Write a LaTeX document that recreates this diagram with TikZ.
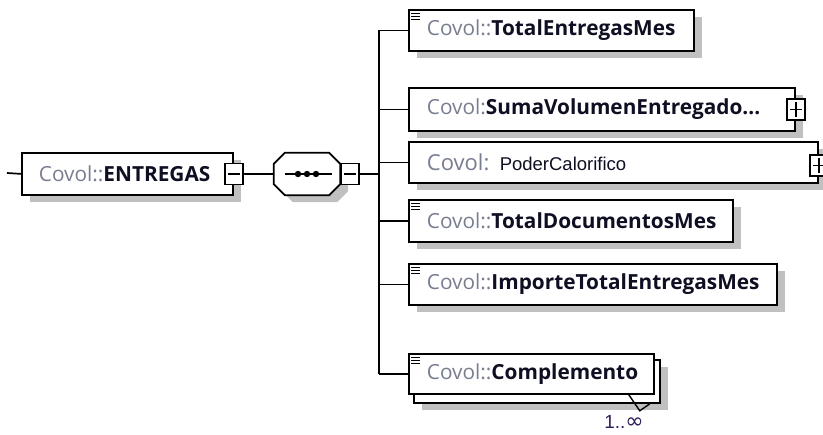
\documentclass[tikz,border=0pt]{standalone}
\usepackage{fontspec}
\setmainfont{Open Sans}
\newfontfamily\arialfont{Liberation Sans}
\newfontfamily\symbfont{DejaVu Sans}
\usetikzlibrary{shadows}
\definecolor{covgray}{RGB}{120,125,145}
\definecolor{shadowgray}{RGB}{192,192,192}
\definecolor{namecol}{RGB}{15,15,35}
\definecolor{multcol}{RGB}{50,30,90}
\newcommand{\cov}[2]{{\color{covgray}Covol:#1}{\bfseries\color{namecol}#2}}
\newcommand{\listicon}[1]{\foreach \dy in {5,8,11} \draw[line width=1pt] ([shift={(3,\dy)}]#1.north west) -- ++(9,0);}
\tikzset{
  conn/.style={line width=1.7pt},
  boxshadow/.style={general shadow={fill=shadowgray, shadow xshift=8pt, shadow yshift=-7pt}},
  elem/.style={draw, line width=1.8pt, fill=white, anchor=north west, minimum height=41pt,
    inner xsep=18pt, inner ysep=0pt, align=left, font=\fontsize{20.8}{24}\selectfont},
  seqbox/.style={minimum width=66pt, minimum height=42pt, inner sep=0pt},
  minusbox/.style={draw, line width=1.5pt, fill=white, minimum width=18pt, minimum height=21pt, inner sep=0pt,
    path picture={\draw[line width=1.5pt] ([xshift=3pt]path picture bounding box.west) -- ([xshift=-3pt]path picture bounding box.east);}},
  plusbox/.style={minusbox,
    path picture={\draw[line width=1.5pt] ([xshift=3pt]path picture bounding box.west) -- ([xshift=-3pt]path picture bounding box.east)
      ([yshift=-3pt]path picture bounding box.north) -- ([yshift=3pt]path picture bounding box.south);}}
}
\begin{document}
\begin{tikzpicture}[x=1pt,y=-1pt]
\useasboundingbox (0,0) rectangle (823,435);

\node[elem, boxshadow, text width=177pt, inner xsep=17pt, minimum height=42pt] (ent) at (21,152) {\cov{:}{ENTREGAS}};
\node[minusbox] (entm) at (ent.east) {};
\coordinate (in) at (7,173);
\draw[conn] (in) -- (ent.west);

\node[seqbox] (seq) at (307,174) {};
\draw[line width=1.8pt, fill=white, boxshadow] ([xshift=11pt]seq.north west) -- ([xshift=-11pt]seq.north east)
  -- ([yshift=-11pt]seq.north east) -- ([yshift=11pt]seq.south east) -- ([xshift=-11pt]seq.south east)
  -- ([xshift=11pt]seq.south west) -- ([yshift=11pt]seq.south west) -- ([yshift=-11pt]seq.north west) -- cycle;
\draw[conn] ([xshift=-22pt]seq.center) -- ([xshift=25pt]seq.center);
\foreach \dx in {-9,0,9}
  \fill ([xshift=\dx pt]seq.center) circle (3.2pt);
\node[minusbox, anchor=west] (seqm) at (seq.east) {};
\draw[conn] (entm.east) -- (seq.west);

\node[elem, boxshadow, text width=249pt] (totent) at (408,9) {\cov{:}{TotalEntregasMes}};
\node[elem, boxshadow, text width=350pt, minimum height=43pt] (suma) at (408,87) {\cov{}{SumaVolumenEntregado...}};
\node[plusbox] (sumap) at (suma.east) {};
\node[elem, boxshadow, text width=373pt] (poder) at (408,141) {{\color{covgray}\fontsize{22}{24}\selectfont Covol: }{\arialfont\fontsize{18.5}{20}\selectfont\color{namecol}PoderCalorifico}};
\node[plusbox] (poderp) at ([yshift=-3pt]poder.east) {};
\node[elem, boxshadow, text width=288pt, minimum height=42pt] (totdoc) at (408,199) {\cov{:}{TotalDocumentosMes}};
\node[elem, boxshadow, text width=332pt] (importe) at (408,263) {\cov{:}{ImporteTotalEntregasMes}};
\node[elem, boxshadow, minimum width=246pt, minimum height=43pt] (compb) at (413,359) {};
\draw[line width=1.4pt] ([shift={(-32,-9)}]compb.south east) -- ([shift={(-21,7)}]compb.south east) -- ([shift={(-11,0)}]compb.south east);
\node[elem, text width=209pt, minimum height=40pt] (comp) at (408,353) {\cov{:}{Complemento}};
\node[text=multcol, font=\arialfont\fontsize{19}{22}\selectfont, inner sep=0pt] (mult) at (624,422) {1..{\symbfont\fontsize{22}{22}\selectfont ∞}};

\listicon{totent}
\listicon{totdoc}
\listicon{importe}
\listicon{comp}

\coordinate (trunk) at (379,0);
\draw[conn] (trunk |- totent.west) -- (trunk |- comp.west);
\draw[conn] (seqm.east) -- (trunk |- seqm.east);
\foreach \n in {totent,suma,poder,totdoc,importe,comp}
  \draw[conn] (trunk |- \n.west) -- (\n.west);
\end{tikzpicture}
\end{document}
